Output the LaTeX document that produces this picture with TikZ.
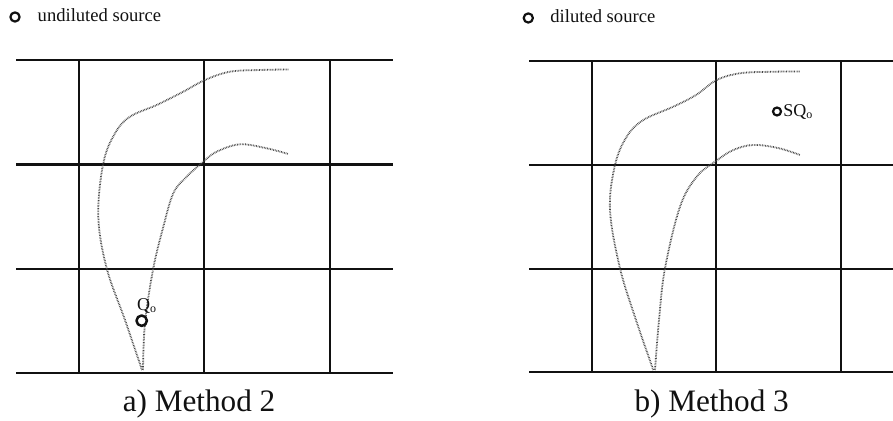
\documentclass[tikz,border=0pt]{standalone}
\usepackage{fontspec}
\setmainfont{Liberation Serif}
\usetikzlibrary{positioning}
\definecolor{gdInk}{HTML}{111111}
\definecolor{gdPlume}{HTML}{444444}
\tikzset{
 sheet/.style={line cap=butt,line join=round,text=gdInk},
 cellline/.style={draw=gdInk,line width=1.15pt},
 plume/.style={draw=gdPlume,line width=.9pt,dash pattern=on .35pt off .45pt},
 srcmark/.style={circle,draw=gdInk,fill=white,line width=1.1pt,inner sep=0pt,minimum size=4.6pt},
 legtext/.style={font=\fontsize{9.3}{11}\selectfont,anchor=base west,inner sep=0pt},
 tag/.style={font=\fontsize{9}{11}\selectfont,anchor=base west,inner sep=0pt},
 panelcap/.style={font=\fontsize{15.6}{18}\selectfont,anchor=base,inner sep=0pt}
}

\begin{document}
\begin{tikzpicture}[sheet,x=.5pt,y=-.5pt]
 \useasboundingbox (0,0) rectangle (893,421);
 % legends
 \node[srcmark] (legAmark) at (15,17) {};
 \node[legtext] (legA) at (37.3,21.5) {undiluted source};
 \node[srcmark] (legBmark) at (528.3,18) {};
 \node[legtext] (legB) at (550,22.5) {diluted source};
 % panel a
 \foreach \y in {60,164.5,269,373}{\draw[cellline] (16,\y)--(393,\y);}
 \foreach \x in {78.7,204.3,330.3}{\draw[cellline] (\x,60)--(\x,373);}
 \draw[plume] plot[smooth,tension=.6] coordinates {(142,370) (125,320) (106.7,268.3) (98.3,216.7) (103.3,163.3) (115,133.3) (130,116.7) (156.7,105) (183.3,91.7) (205,80) (230,71.7) (260,70) (288.3,69.5)};
 \draw[plume] plot[smooth,tension=.6] coordinates {(143,370) (145,323) (153.3,268.3) (163,228) (173.3,193.3) (186.7,176.7) (203.3,161.7) (216.7,151.7) (240,144.3) (266.7,148.3) (288.3,154)};
 \node[srcmark,minimum size=5.2pt,line width=1.25pt] (srcA) at (141.7,320.7) {};
 \node[tag] (srcAtag) at (136.6,310.5) {Q\textsubscript{o}};
 \node[panelcap] (capA) at (199,411.7) {a) Method 2};
 % panel b
 \foreach \y in {61,165,269,372}{\draw[cellline] (529,\y)--(893,\y);}
 \foreach \x in {591.7,716.3,840.7}{\draw[cellline] (\x,61)--(\x,372);}
 \draw[plume] plot[smooth,tension=.6] coordinates {(653.3,370) (636,320) (620,268.3) (610,210) (615,165) (626.7,136.7) (643.3,120) (673.3,106.7) (696,95) (716.7,80) (740,73.3) (770,71.8) (800,71.5)};
 \draw[plume] plot[smooth,tension=.6] coordinates {(655,370) (659,320) (665,268.3) (680,206.7) (696.7,176.7) (715,161.7) (733.3,150) (753.3,145) (778,148) (800,155)};
 \node[srcmark,minimum size=4pt] (srcB) at (777,111.5) {};
 \node[tag] (srcBtag) at (783,116.5) {SQ\textsubscript{o}};
 \node[panelcap] (capB) at (711.7,412) {b) Method 3};
\end{tikzpicture}
\end{document}
